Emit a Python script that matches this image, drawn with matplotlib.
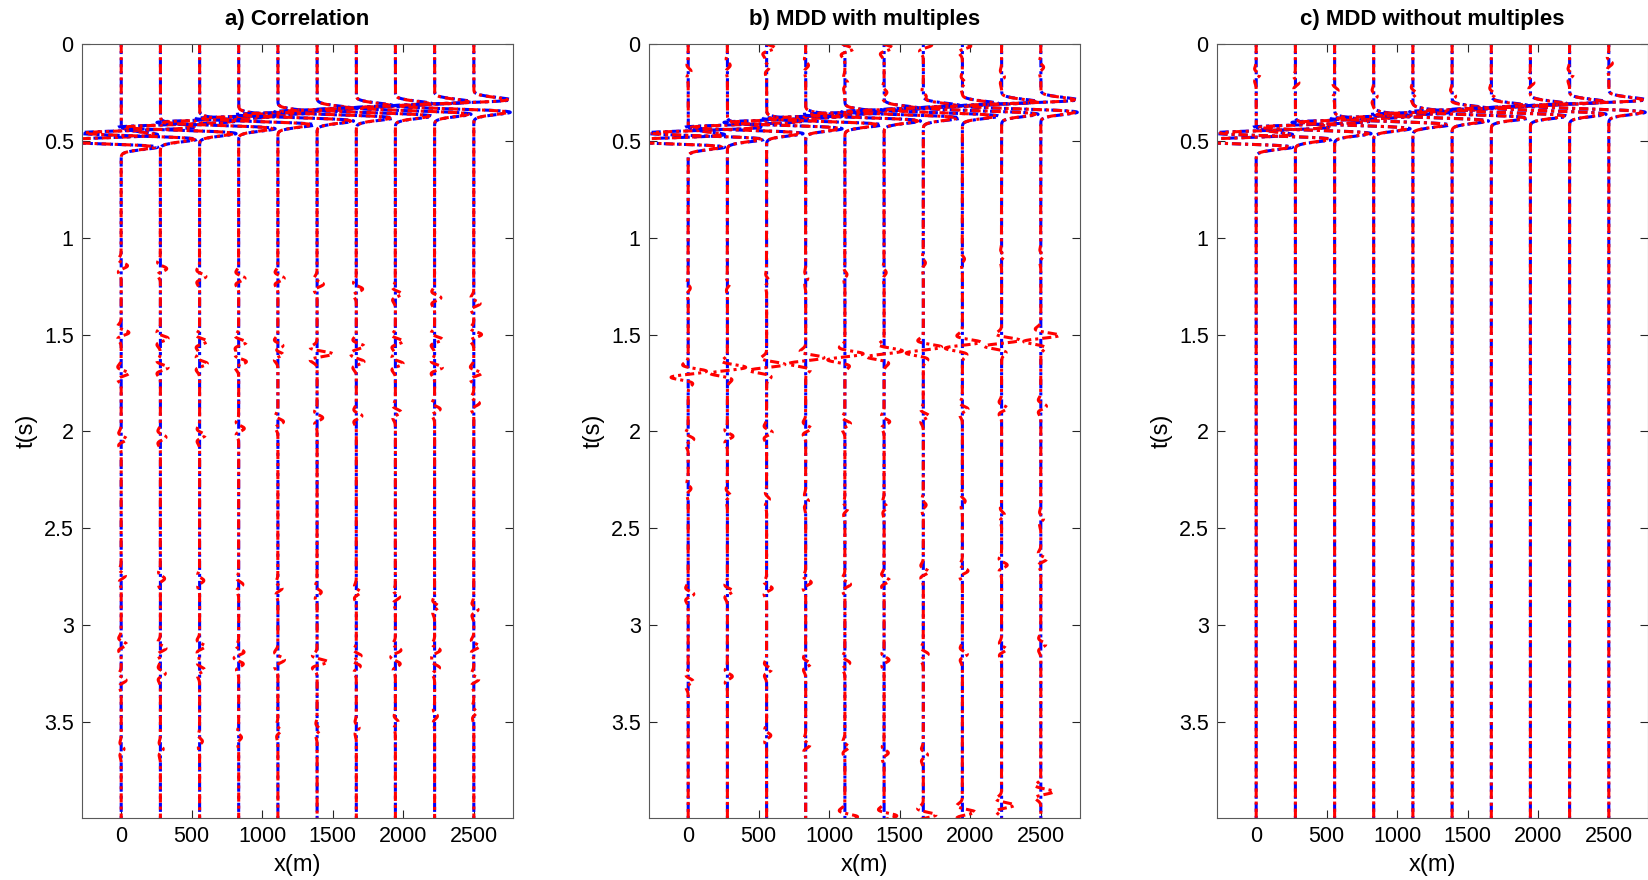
import matplotlib.pyplot as plt
import numpy as np

plt.rcParams['font.family'] = ['Liberation Sans', 'DejaVu Sans']

nan = np.nan

# receiver positions (m)
offsets = [0, 278, 556, 833, 1111, 1389, 1667, 1944, 2222, 2500]

# direct arrival per trace (s) and its wiggle amplitude (m)
t_direct = [0.50, 0.46, 0.43, 0.405, 0.385, 0.365, 0.35, 0.34, 0.33, 0.32]
amp_direct = -580.0

# a) correlation: extra events, times per trace (s)
a_t1 = [1.145, 1.16, 1.20, 1.21, 1.21, 1.24, 1.265, 1.29, 1.31, 1.34]
a_t2 = [1.49, 1.52, 1.535, 1.54, 1.56, 1.60, 1.56, 1.535, 1.525, 1.50]
a_t3 = [1.70, 1.67, 1.65, 1.64, 1.60, 1.60, 1.64, 1.65, 1.67, 1.70]
a_t4 = [2.04, 2.03, 2.02, 1.985, 1.95, 1.93, 1.92, 1.90, 1.885, 1.855]
a_t5 = [2.745, 2.76, 2.77, 2.79, 2.81, 2.83, 2.83, 2.855, 2.905, 2.92]
a_t6 = [3.10, 3.12, 3.11, 3.14, 3.17, 3.19, 3.16, 3.13, 3.13, 3.11]
a_t7 = [3.285, 3.25, 3.23, 3.20, 3.19, 3.19, 3.21, 3.20, 3.22, 3.28]
a_t8 = [3.64, 3.64, 3.60, 3.58, 3.545, 3.54, 3.53, 3.50, 3.47, 3.45]
a_amp = [45, 55, 55, 40, 30, 40, 35, 20]

# b) MDD with multiples
b_t0 = [nan, nan, 0.02, nan, 0.025, 0.02, 0.005, 0.01, nan, nan]
b_t1 = [0.14, 0.11, 0.12, 0.11, 0.20, 0.25, 0.27, 0.20, 0.17, 0.12]
b_t2 = [1.26, 1.24, 1.22, 1.21, 1.19, 1.18, 1.13, 1.11, 1.095, 1.095]
b_t3 = [1.69, 1.67, 1.655, 1.62, 1.60, 1.585, 1.565, 1.54, 1.53, 1.505]
b_t3b = [1.72, 1.70, 1.685, 1.65, 1.63, 1.615, 1.595, 1.57, 1.56, 1.535]
b_t4 = [2.04, 2.025, 2.005, 1.985, 1.96, 1.95, 1.92, 1.885, 1.88, 1.87]
b_t5 = [2.295, 2.33, 2.35, 2.36, 2.40, 2.39, 2.38, 2.36, 2.43, 2.45]
b_t6 = [2.84, 2.825, 2.81, 2.78, 2.79, 2.77, 2.725, 2.72, 2.69, 2.66]
b_t7 = [3.29, 3.265, 3.23, 3.20, 3.195, 3.18, 3.15, 3.15, 3.125, 3.10]
b_t8 = [nan, nan, 3.57, 3.62, 3.63, 3.66, 3.67, nan, nan, nan]
b_t9 = [nan, nan, nan, nan, 3.99, 3.985, 3.98, 3.965, 3.93, 3.86]
b_amp = [60, 20, 15, 95, -80, 40, 20, 40, 35, 30, 90]

# c) MDD without multiples
c_t1 = [0.16, 0.20, 0.24, 0.27, 0.255, 0.27, 0.26, 0.20, 0.16, 0.10]
c_amp = [25]

titles = ['a) Correlation', 'b) MDD with multiples', 'c) MDD without multiples']
panel_events = [
    list(zip([a_t1, a_t2, a_t3, a_t4, a_t5, a_t6, a_t7, a_t8], a_amp)),
    list(zip([b_t0, b_t1, b_t2, b_t3, b_t3b, b_t4, b_t5, b_t6, b_t7, b_t8, b_t9],
             b_amp)),
    list(zip([c_t1], c_amp)),
]

freq = 12.0
t = np.arange(0.0, 4.2, 0.001)


def ricker(tau):
    arg = (np.pi * freq * tau) ** 2
    return (1 - 2 * arg) * np.exp(-arg)


fig = plt.figure(figsize=(16.49, 8.8), dpi=100)
lefts = [82, 649, 1217]
ls_blue = (2.0, (3, 1.3, 1, 1.3))
ls_red = (0, (3, 1.3, 1, 1.3))

for left, title, events in zip(lefts, titles, panel_events):
    ax = fig.add_axes([left / 1649, 62 / 880, 431 / 1649, 774 / 880])
    for i, x0 in enumerate(offsets):
        direct = amp_direct * ricker(t - t_direct[i])
        blue = x0 + direct
        red = x0 + 0.92 * direct
        for times, amp in events:
            if not np.isnan(times[i]):
                red = red + amp * ricker(t - times[i])
        ax.plot(blue, t, color='b', lw=2.2, ls=ls_blue)
        ax.plot(red, t, color='r', lw=2.2, ls=ls_red)

    ax.set_xlim(-277.8, 2777.8)
    ax.set_ylim(3.996, 0)
    ax.set_xticks([0, 500, 1000, 1500, 2000, 2500])
    ax.set_yticks([0, 0.5, 1, 1.5, 2, 2.5, 3, 3.5])
    ax.set_yticklabels(['0', '0.5', '1', '1.5', '2', '2.5', '3', '3.5'])
    ax.tick_params(direction='in', top=True, right=True, length=6,
                   labelsize=15.5, color='0.15', pad=6)
    for sp in ax.spines.values():
        sp.set_color('0.35')
    ax.set_title(title, fontsize=16, fontweight='bold', pad=14)
    ax.set_xlabel('x(m)', fontsize=17, labelpad=5)
    ax.set_ylabel('t(s)', fontsize=17, labelpad=4)

fig.savefig('out.png', dpi=100)
